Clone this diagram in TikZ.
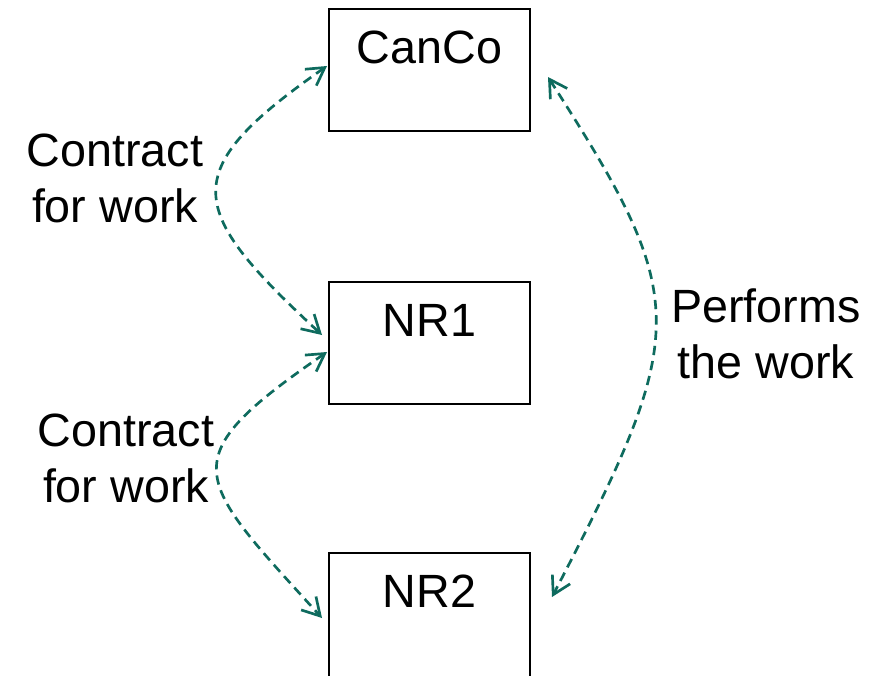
\documentclass[tikz,border=0pt]{standalone}
\usepackage{fontspec}
\setmainfont{Liberation Sans}
\usepackage{xcolor}
\usepackage{tikz}
\usetikzlibrary{positioning,arrows.meta}
\definecolor{linkteal}{HTML}{0E6B5E}

\begin{document}
\begin{tikzpicture}[
  x=0.75pt, y=-0.75pt,
  font=\fontsize{35pt}{42pt}\selectfont,
  party/.style={draw,line width=1.5pt,inner sep=0pt,minimum width=150.75pt,text height=40.5pt,text depth=51pt},
  note/.style={align=center,inner sep=0pt},
  link/.style={linkteal,line width=2pt,dash pattern=on 7pt off 4.5pt,{Straight Barb[length=13pt,width=15pt,line width=2pt]}-{Straight Barb[length=13pt,width=15pt,line width=2pt]}},
]
  \clip (0,0) rectangle (887,675);
  \fill[white] (0,0) rectangle (887,675);

  \node[party] (canco) at (429.5,70) {CanCo};
  \node[party] (nr1) at (429.5,343) {NR1};
  \node[party,text depth=58.5pt] (nr2) at (429.5,619) {NR2};

  \node[note] (contract1) at (115,178.5) {Contract\\for work};
  \node[note] (contract2) at (126,458.5) {Contract\\for work};
  \node[note] (performs) at (766,333.5) {Performs\\the work};

  \draw[link] ([shift={(-1,-4)}]canco.west) .. controls +(-152,106) and +(-136,-126) .. ([shift={(-6,-8)}]nr1.west);
  \draw[link] ([shift={(-1,9)}]nr1.west) .. controls +(-157,108) and +(-129,-142) .. ([shift={(-6,-1)}]nr2.west);
  \draw[link] ([shift={(17,7)}]canco.east) .. controls +(143,223) and +(139,-267) .. ([shift={(21,-22)}]nr2.east);
\end{tikzpicture}
\end{document}
